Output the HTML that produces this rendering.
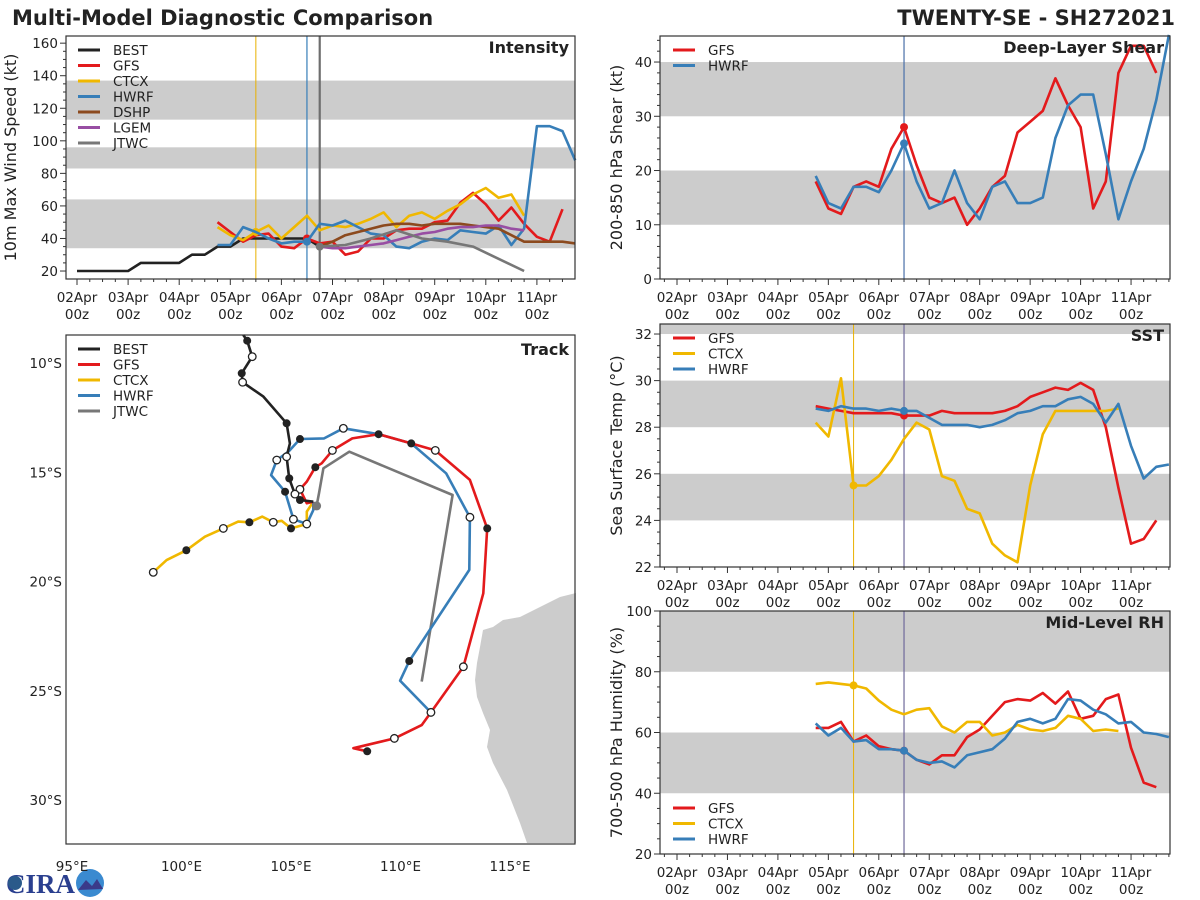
<!DOCTYPE html>
<html><head><meta charset="utf-8"><style>
html,body{margin:0;padding:0;background:#fff;}
svg{display:block;font-family:"DejaVu Sans","Liberation Sans",sans-serif;}
</style></head><body>
<svg id="chart" width="1200" height="900" viewBox="0 0 1200 900" xmlns="http://www.w3.org/2000/svg">
<text x="12" y="25" font-size="21" font-weight="bold" fill="#222">Multi-Model Diagnostic Comparison</text>
<text x="1175" y="25" font-size="21" font-weight="bold" fill="#222" text-anchor="end">TWENTY-SE - SH272021</text>
<g>
<text x="6" y="893" font-size="27" font-weight="bold" fill="#2a3f8f" font-family="Liberation Serif,serif">CIRA</text>
<circle cx="90" cy="883" r="14" fill="#3a8ad0"/>
<path d="M78 890 L86 880 L92 886 L97 879 L103 889 Z" fill="#3a3a8a"/>
<circle cx="15" cy="883" r="7" fill="#2a5a8a"/>
</g>
</svg>
<script>
// ===== Data (days since 02Apr 00z) =====
var dayLabels = ["02Apr","03Apr","04Apr","05Apr","06Apr","07Apr","08Apr","09Apr","10Apr","11Apr"];
var bestStart = 0;
var bestInt = [20,20,20,20,20,25,25,25,25,30,30,35,35,40,40,40,40,40,40,35,35];
var gfsIntStart = 2.75;
var gfsInt = [50,44,38,42,43,35,34,40,37,38,30,32,40,40,45,46,46,50,51,62,68,61,51,59,49,41,38,58];
var ctcxIntStart = 2.75;
var ctcxInt = [47,42,39,44,48,40,47,54,45,48,47,49,52,56,47,54,56,52,57,61,67,71,65,67,54];
var hwrfIntStart = 2.75;
var hwrfInt = [36,36,47,44,40,37,38,38,49,48,51,47,43,42,35,34,38,40,39,45,44,43,48,36,46,109,109,106,88];
var dshpIntStart = 4.75;
var dshpInt = [35,38,42,44,46,48,49,49,48,49,49,49,48,47,46,42,38,38,38,38,37];
var lgemIntStart = 4.75;
var lgemInt = [35,34,34,35,36,37,39,41,43,44,46,47,47,48,48,46,45];
var jtwcIntTimes = [4.75,5.25,5.75,6.25,6.75,7.25,7.75,8.75];
var jtwcInt = [35,36,40,45,40,38,35,20];

var gfsShearStart = 2.75;
var gfsShear = [18,13,12,17,18,17,24,28,21,15,14,15,10,13,17,19,27,29,31,37,32,28,13,18,38,43,43,38];
var hwrfShearStart = 2.75;
var hwrfShear = [19,14,13,17,17,16,20,25,18,13,14,20,14,11,17,18,14,14,15,26,32,34,34,23,11,18,24,33,45];

var gfsSstStart = 2.75;
var gfsSst = [28.9,28.8,28.7,28.6,28.6,28.6,28.6,28.5,28.5,28.5,28.7,28.6,28.6,28.6,28.6,28.7,28.9,29.3,29.5,29.7,29.6,29.9,29.6,28.0,25.4,23.0,23.2,24.0];
var ctcxSstStart = 2.75;
var ctcxSst = [28.2,27.6,30.1,25.5,25.5,25.9,26.6,27.5,28.2,27.9,25.9,25.7,24.5,24.3,23.0,22.5,22.2,25.5,27.7,28.7,28.7,28.7,28.7,28.7,28.8];
var hwrfSstStart = 2.75;
var hwrfSst = [28.8,28.7,28.9,28.8,28.8,28.7,28.8,28.7,28.7,28.4,28.1,28.1,28.1,28.0,28.1,28.3,28.6,28.7,28.9,28.9,29.2,29.3,29.0,28.2,29.0,27.2,25.8,26.3,26.4];

var gfsRhStart = 2.75;
var gfsRh = [61.5,61.5,63.5,57,59,55.5,54.5,54,51,49.5,52.5,52.5,58.5,61,65.5,70,71,70.5,73,69.5,73.5,64.5,65.5,71,72.5,55,43.5,42];
var ctcxRhStart = 2.75;
var ctcxRh = [76,76.5,76,75.5,74.5,70.5,67.5,66,67.5,68,62,60,63.5,63.5,59,60,62.5,61,60.5,61.5,65.5,64.5,60.5,61,60.5];
var hwrfRhStart = 2.75;
var hwrfRh = [63,59,61.5,57,57.5,54.5,54.5,54,51,50,50.5,48.5,52.5,53.5,54.5,58,63.5,64.5,63,64.5,71,70.5,67.5,66,63,63.5,60,59.5,58.5];

// Tracks: [lon E, lat S, marker] marker: 0 none, 1 filled, 2 open
var bestTrack = [[102.82,8.72,0],[103.0,8.98,1],[103.23,9.71,2],[102.75,10.47,1],[102.79,10.88,2],[103.74,11.54,0],[104.80,12.76,1],[104.95,13.68,0],[104.80,14.29,2],[104.92,15.28,1],[105.18,16.0,2],[105.41,16.27,1],[106.02,16.35,0]];
var gfsTrack = [[106.02,16.35,0],[105.72,16.42,0],[105.41,15.78,2],[105.72,15.43,0],[106.11,14.77,1],[106.40,14.59,0],[106.89,14.0,2],[107.80,13.45,0],[109.0,13.26,1],[110.49,13.68,1],[111.59,14.0,2],[113.17,15.35,0],[113.96,17.57,1],[113.78,20.54,0],[112.87,23.90,2],[111.39,25.99,2],[110.97,26.57,0],[109.72,27.18,2],[107.85,27.63,0],[108.48,27.77,1]];
var hwrfTrack = [[106.02,16.35,0],[106.02,16.73,0],[105.72,17.37,2],[105.11,17.15,2],[104.73,15.89,1],[104.09,15.13,0],[104.35,14.44,2],[104.88,14.06,0],[105.41,13.48,1],[106.51,13.45,0],[107.39,12.99,2],[109.0,13.26,0],[110.49,13.68,0],[112.08,15.05,0],[113.17,17.06,2],[113.14,19.47,0],[110.40,23.64,1],[109.98,24.54,0],[111.39,25.99,0]];
var ctcxTrack = [[106.02,16.35,0],[105.72,16.80,0],[105.72,17.37,0],[105.0,17.57,1],[104.57,17.22,0],[104.19,17.29,2],[103.69,17.03,0],[103.10,17.29,1],[102.59,17.26,0],[101.91,17.57,2],[101.07,17.95,0],[100.22,18.57,1],[99.32,19.02,0],[98.71,19.58,2]];
var jtwcTrack = [[106.17,16.54,0],[106.28,15.96,0],[106.48,14.82,0],[107.66,14.06,0],[112.38,16.04,0],[110.97,24.58,0]];
var lonTicks = [95,100,105,110,115];
var latTicks = [10,15,20,25,30];

// ===== Rendering =====
var NS = "http://www.w3.org/2000/svg";
var svg = document.getElementById('chart');
var C = {BEST:"#222222",GFS:"#e31a1c",CTCX:"#f0b800",HWRF:"#377eb8",DSHP:"#8c4a1e",LGEM:"#984ea3",JTWC:"#777777"};
function mk(tag, attrs, parent){var e=document.createElementNS(NS,tag);for(var k in attrs)e.setAttribute(k,attrs[k]);(parent||svg).appendChild(e);return e;}
function txt(s, attrs, parent){var e=mk('text',attrs,parent);e.textContent=s;return e;}

function timePanel(p){
  var g = mk('g',{});
  
  
  var x0=p.x0,x1=p.x1,y0=p.y0,y1=p.y1;
  var xs=function(d){return p.d0x + d*p.dpx;};
  var ys=function(v){return y1 - (v-p.vmin)/(p.vmax-p.vmin)*(y1-y0);};
  mk('rect',{x:x0,y:y0,width:x1-x0,height:y1-y0,fill:'#fff'},g);
  p.bands.forEach(function(b){
    var yt=Math.max(y0,ys(b[1])), yb=Math.min(y1,ys(b[0]));
    var r=mk('rect',{x:x0,y:yt,width:x1-x0,height:yb-yt,fill:'#cccccc'},g);
    
    
  });
  p.vlines.forEach(function(v){
    mk('line',{x1:xs(v[0]),x2:xs(v[0]),y1:y0,y2:y1,stroke:v[1],'stroke-width':v[2]},g);
  });
  p.series.forEach(function(s){
    var pts=s.vals.map(function(v,i){var t=s.times?s.times[i]:s.start+i*0.25;return xs(t).toFixed(1)+','+ys(v).toFixed(1);});
    var pl=mk('polyline',{points:pts.join(' '),fill:'none',stroke:C[s.k],'stroke-width':2.6,'stroke-linejoin':'round'},g);
    
    
    if(s.dot!=null){
      var i=s.times?s.times.indexOf(s.dot):Math.round((s.dot-s.start)/0.25);
      mk('circle',{cx:xs(s.dot),cy:ys(s.vals[i]),r:4,fill:C[s.k]},g);
    }
  });
  mk('rect',{x:x0,y:y0,width:x1-x0,height:y1-y0,fill:'none',stroke:'#333','stroke-width':1.2},g);
  for(var q=-1; q<=40; q++){
    var d=q*0.25; var x=xs(d); if(x<x0||x>x1) continue;
    var maj=(q%4==0);
    mk('line',{x1:x,x2:x,y1:y1,y2:y1+(maj?6:3),stroke:'#333','stroke-width':1},g);
  }
  dayLabels.forEach(function(l,i){
    var x=xs(i);
    txt(l,{x:x,y:y1+23,'font-size':13.5,'text-anchor':'middle',fill:'#222'},g);
    txt('00z',{x:x,y:y1+40,'font-size':13.5,'text-anchor':'middle',fill:'#222'},g);
  });
  var nStart=Math.ceil(p.vmin/p.minor-1e-9), nEnd=Math.floor(p.vmax/p.minor+1e-9);
  for(var n=nStart; n<=nEnd; n++){
    var v=n*p.minor;
    var y=ys(v);
    var isMaj=Math.abs(Math.round(v/p.major)*p.major-v)<1e-6;
    mk('line',{x1:x0,x2:x0-(isMaj?6:3),y1:y,y2:y,stroke:'#333','stroke-width':1},g);
    if(isMaj && p.ticks.indexOf(Math.round(v))>=0) txt(String(Math.round(v)),{x:x0-8,y:y+5,'font-size':13.5,'text-anchor':'end',fill:'#222'},g);
  }
  var yl=txt(p.ylabel,{x:0,y:0,'font-size':16,'text-anchor':'middle',fill:'#222',transform:'translate('+p.ylx+','+((y0+y1)/2)+') rotate(-90)'},g);
  
  
  var tt=txt(p.title,{x:x1-6,y:y0+17,'font-size':16,'font-weight':'bold','text-anchor':'end',fill:'#222'},g);
  
  
  legend(g,p.legend,p.legX,p.legY);
}
function legend(g,keys,lx,ly){
  keys.forEach(function(k,i){
    var y=ly+i*15.5;
    var e=mk('g',{},g);
    
    
    mk('line',{x1:lx,x2:lx+22,y1:y,y2:y,stroke:C[k],'stroke-width':3},e);
    txt(k,{x:lx+35,y:y+5,'font-size':13.5,fill:'#222'},e);
  });
}

var L={x0:66,x1:575,d0x:77,dpx:51.1};
var R={x0:660,x1:1170,d0x:677,dpx:50.45};
timePanel({name:'intensity-panel',x0:L.x0,x1:L.x1,d0x:L.d0x,dpx:L.dpx,y0:36,y1:279,vmin:15.1,vmax:164.4,major:20,minor:5,ticks:[20,40,60,80,100,120,140,160],
  bands:[[34,64],[83,96],[113,137]],vlines:[[3.5,'#e8b000',1],[4.5,'#377eb8',1.2],[4.75,'#6e6e6e',2.2]],
  series:[{k:'BEST',start:bestStart,vals:bestInt},{k:'GFS',start:gfsIntStart,vals:gfsInt,dot:4.5},{k:'CTCX',start:ctcxIntStart,vals:ctcxInt,dot:3.5},{k:'HWRF',start:hwrfIntStart,vals:hwrfInt,dot:4.5},{k:'DSHP',start:dshpIntStart,vals:dshpInt},{k:'LGEM',start:lgemIntStart,vals:lgemInt},{k:'JTWC',times:jtwcIntTimes,vals:jtwcInt,dot:4.75}],
  ylabel:'10m Max Wind Speed (kt)',ylx:16,title:'Intensity',legend:['BEST','GFS','CTCX','HWRF','DSHP','LGEM','JTWC'],legX:78,legY:50});
timePanel({name:'shear-panel',x0:R.x0,x1:R.x1,d0x:R.d0x,dpx:R.dpx,y0:36,y1:279,vmin:0,vmax:44.8,major:10,minor:2,ticks:[0,10,20,30,40],
  bands:[[10,20],[30,40]],vlines:[[4.5,'#4a6fa8',1.2]],
  series:[{k:'GFS',start:gfsShearStart,vals:gfsShear,dot:4.5},{k:'HWRF',start:hwrfShearStart,vals:hwrfShear,dot:4.5}],
  ylabel:'200-850 hPa Shear (kt)',ylx:622,title:'Deep-Layer Shear',legend:['GFS','HWRF'],legX:673,legY:50});
timePanel({name:'sst-panel',x0:R.x0,x1:R.x1,d0x:R.d0x,dpx:R.dpx,y0:324,y1:567,vmin:22,vmax:32.43,major:2,minor:0.5,ticks:[22,24,26,28,30,32],
  bands:[[24,26],[28,30],[32,33]],vlines:[[3.5,'#e8b000',1],[4.5,'#6f6a9a',1.2]],
  series:[{k:'GFS',start:gfsSstStart,vals:gfsSst,dot:4.5},{k:'CTCX',start:ctcxSstStart,vals:ctcxSst,dot:3.5},{k:'HWRF',start:hwrfSstStart,vals:hwrfSst,dot:4.5}],
  ylabel:'Sea Surface Temp (°C)',ylx:622,title:'SST',legend:['GFS','CTCX','HWRF'],legX:673,legY:338});
timePanel({name:'rh-panel',x0:R.x0,x1:R.x1,d0x:R.d0x,dpx:R.dpx,y0:611,y1:854,vmin:20,vmax:100,major:20,minor:5,ticks:[20,40,60,80,100],
  bands:[[40,60],[80,100]],vlines:[[3.5,'#e8b000',1],[4.5,'#6f6a9a',1.2]],
  series:[{k:'GFS',start:gfsRhStart,vals:gfsRh,dot:4.5},{k:'CTCX',start:ctcxRhStart,vals:ctcxRh,dot:3.5},{k:'HWRF',start:hwrfRhStart,vals:hwrfRh,dot:4.5}],
  ylabel:'700-500 hPa Humidity (%)',ylx:622,title:'Mid-Level RH',legend:['GFS','CTCX','HWRF'],legX:673,legY:808});

// Track panel
(function(){
  var g=mk('g',{});
  
  
  var x0=66,x1=575,y0=335,y1=844;
  var lx=function(lon){return 72+(lon-95)*21.9;};
  var ly=function(lat){return 363+(lat-10)*21.85;};
  mk('rect',{x:x0,y:y0,width:x1-x0,height:y1-y0,fill:'#fff'},g);
  var land=mk('path',{d:'M576 593 L560 597 L540 607 L520 617 L503 620 L493 627 L483 630 L480 647 L477 663 L475 680 L477 697 L483 713 L490 730 L487 747 L493 763 L507 790 L520 823 L527 843 L576 843 Z',fill:'#cccccc'},g);
  
  
  var tracks=[['JTWC',jtwcTrack],['CTCX',ctcxTrack],['HWRF',hwrfTrack],['GFS',gfsTrack],['BEST',bestTrack]];
  tracks.forEach(function(t){
    var pts=t[1].map(function(p){return lx(p[0]).toFixed(1)+','+ly(p[1]).toFixed(1);});
    var pl=mk('polyline',{points:pts.join(' '),fill:'none',stroke:C[t[0]],'stroke-width':2.6,'stroke-linejoin':'round'},g);
    
    
  });
  tracks.forEach(function(t){
    t[1].forEach(function(p){
      if(p[2]==1) mk('circle',{cx:lx(p[0]),cy:ly(p[1]),r:4,fill:'#222'},g);
      else if(p[2]==2) mk('circle',{cx:lx(p[0]),cy:ly(p[1]),r:3.8,fill:'#fff',stroke:'#222','stroke-width':1.3},g);
    });
  });
  mk('circle',{cx:lx(106.17),cy:ly(16.54),r:4.5,fill:'#777'},g);
  mk('rect',{x:x0,y:y0,width:x1-x0,height:y1-y0,fill:'none',stroke:'#333','stroke-width':1.2},g);
  lonTicks.forEach(function(l){txt(l+'°E',{x:lx(l),y:y1+27,'font-size':13.5,'text-anchor':'middle',fill:'#222'},g);});
  latTicks.forEach(function(l){txt(l+'°S',{x:x0-4,y:ly(l)+5,'font-size':13.5,'text-anchor':'end',fill:'#222'},g);});
  var tt=txt('Track',{x:x1-6,y:y0+20,'font-size':16,'font-weight':'bold','text-anchor':'end',fill:'#222'},g);
  
  
  legend(g,['BEST','GFS','CTCX','HWRF','JTWC'],78,349);
})();
</script>
</body></html>
